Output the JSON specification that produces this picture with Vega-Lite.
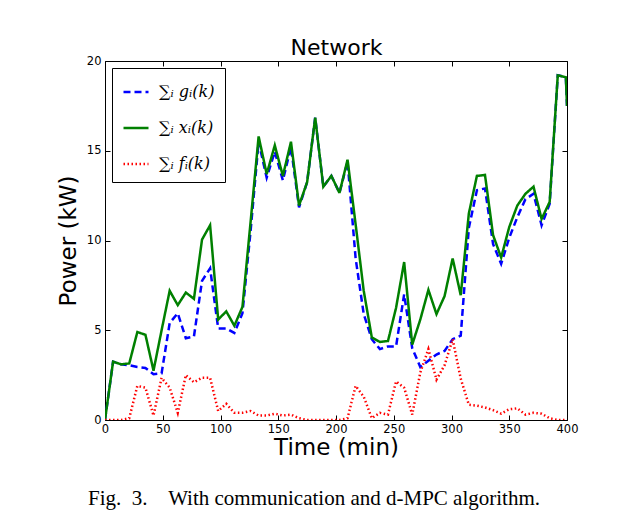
{
  "$schema": "https://vega.github.io/schema/vega-lite/v6.json",
  "width": 462,
  "height": 359,
  "autosize": {"type": "none"},
  "padding": {"left": 105, "top": 61, "right": 51, "bottom": 101},
  "background": "white",
  "title": {
    "text": "Fig.\u00a0\u00a03.\u00a0\u00a0\u00a0 With communication and d-MPC algorithm.",
    "orient": "bottom",
    "anchor": "middle",
    "font": "Liberation Serif",
    "fontSize": 21,
    "fontWeight": "normal",
    "color": "black",
    "offset": 28,
    "dx": -22
  },
  "data": {
    "values": [
      {"t": 0, "g": 0, "x": 0, "f": 0},
      {"t": 7, "g": 3.25, "x": 3.25, "f": 0},
      {"t": 14, "g": 3.1, "x": 3.1, "f": 0},
      {"t": 21, "g": 3.05, "x": 3.15, "f": 0.1},
      {"t": 28, "g": 2.95, "x": 4.9, "f": 1.9},
      {"t": 35, "g": 2.9, "x": 4.75, "f": 1.8},
      {"t": 42, "g": 2.55, "x": 2.75, "f": 0.25},
      {"t": 49, "g": 2.6, "x": 5.0, "f": 2.35},
      {"t": 56, "g": 5.4, "x": 7.2, "f": 1.8},
      {"t": 63, "g": 5.95, "x": 6.4, "f": 0.4},
      {"t": 70, "g": 4.55, "x": 7.1, "f": 2.5},
      {"t": 77, "g": 4.65, "x": 6.75, "f": 2.1},
      {"t": 84, "g": 7.75, "x": 10.05, "f": 2.35},
      {"t": 91, "g": 8.45, "x": 10.85, "f": 2.35},
      {"t": 98, "g": 5.1, "x": 5.6, "f": 0.5},
      {"t": 105, "g": 5.1, "x": 6.05, "f": 0.9},
      {"t": 112, "g": 4.85, "x": 5.25, "f": 0.4},
      {"t": 119, "g": 5.95, "x": 6.3, "f": 0.4},
      {"t": 126, "g": 10.5, "x": 11.0, "f": 0.5},
      {"t": 133, "g": 15.5, "x": 15.8, "f": 0.25},
      {"t": 140, "g": 13.5, "x": 13.7, "f": 0.25},
      {"t": 147, "g": 14.95, "x": 15.3, "f": 0.35},
      {"t": 154, "g": 13.35, "x": 13.6, "f": 0.25},
      {"t": 161, "g": 15.2, "x": 15.5, "f": 0.3},
      {"t": 168, "g": 11.85, "x": 11.95, "f": 0.1},
      {"t": 175, "g": 13.25, "x": 13.25, "f": 0},
      {"t": 182, "g": 16.85, "x": 16.85, "f": 0},
      {"t": 189, "g": 13.0, "x": 13.0, "f": 0},
      {"t": 196, "g": 13.6, "x": 13.6, "f": 0},
      {"t": 203, "g": 12.65, "x": 12.65, "f": 0},
      {"t": 210, "g": 14.4, "x": 14.5, "f": 0.1},
      {"t": 217, "g": 9.0, "x": 10.9, "f": 1.9},
      {"t": 224, "g": 5.9, "x": 7.2, "f": 1.3},
      {"t": 231, "g": 4.5, "x": 4.6, "f": 0.1},
      {"t": 238, "g": 3.95, "x": 4.35, "f": 0.4},
      {"t": 245, "g": 4.1, "x": 4.4, "f": 0.3},
      {"t": 252, "g": 4.1, "x": 6.25, "f": 2.15},
      {"t": 259, "g": 7.0, "x": 8.8, "f": 1.8},
      {"t": 266, "g": 4.0, "x": 4.2, "f": 0.3},
      {"t": 273, "g": 2.95, "x": 5.6, "f": 2.65},
      {"t": 280, "g": 3.3, "x": 7.25, "f": 3.95},
      {"t": 287, "g": 3.65, "x": 5.9, "f": 2.25},
      {"t": 294, "g": 3.85, "x": 6.9, "f": 3.05},
      {"t": 301, "g": 4.5, "x": 9.0, "f": 4.5},
      {"t": 308, "g": 4.7, "x": 6.95, "f": 2.3},
      {"t": 315, "g": 10.7, "x": 11.5, "f": 0.85},
      {"t": 322, "g": 12.8, "x": 13.6, "f": 0.8},
      {"t": 329, "g": 12.9, "x": 13.65, "f": 0.7},
      {"t": 336, "g": 9.8, "x": 10.3, "f": 0.55},
      {"t": 343, "g": 8.7, "x": 9.05, "f": 0.35},
      {"t": 350, "g": 10.15, "x": 10.75, "f": 0.6},
      {"t": 357, "g": 11.3, "x": 11.95, "f": 0.65},
      {"t": 364, "g": 12.3, "x": 12.6, "f": 0.3},
      {"t": 371, "g": 12.6, "x": 13.0, "f": 0.4},
      {"t": 378, "g": 10.85, "x": 11.2, "f": 0.35},
      {"t": 385, "g": 12.05, "x": 12.15, "f": 0.1},
      {"t": 392, "g": 19.2, "x": 19.2, "f": 0},
      {"t": 399, "g": 19.1, "x": 19.1, "f": 0},
      {"t": 400, "g": 17.5, "x": 17.5, "f": 0}
    ]
  },
  "transform": [{"fold": ["g", "x", "f"], "as": ["series", "v"]}],
  "layer": [
    {
      "mark": {"type": "line", "clip": true},
      "encoding": {
        "x": {
          "field": "t", "type": "quantitative",
          "scale": {"domain": [0, 400], "nice": false},
          "axis": {
            "orient": "bottom", "values": [0, 50, 100, 150, 200, 250, 300, 350, 400],
            "format": "d", "grid": false, "tickSize": -5, "tickColor": "black",
            "domainColor": "black", "labelPadding": 8, "labelFont": "DejaVu Sans",
            "labelFontSize": 11.5, "labelColor": "black", "labelFlush": false,
            "title": "Time (min)", "titleFont": "DejaVu Sans", "titleFontSize": 23,
            "titleFontWeight": "normal", "titleColor": "black", "titlePadding": 2
          }
        },
        "y": {
          "field": "v", "type": "quantitative",
          "scale": {"domain": [0, 20], "nice": false},
          "axis": {
            "orient": "left", "values": [0, 5, 10, 15, 20], "format": "d",
            "grid": false, "tickSize": -5, "tickColor": "black", "domainColor": "black",
            "labelPadding": 9, "labelFont": "DejaVu Sans", "labelFontSize": 11.5,
            "labelColor": "black", "labelFlush": false,
            "title": "Power (kW)", "titleFont": "DejaVu Sans", "titleFontSize": 23,
            "titleFontWeight": "normal", "titleColor": "black", "titlePadding": 6
          }
        },
        "color": {
          "field": "series", "type": "nominal",
          "scale": {"domain": ["g", "x", "f"], "range": ["#0000ff", "#008000", "#ff0000"]},
          "legend": {
            "title": null, "orient": "top-left", "offset": 7,
            "strokeColor": "black", "fillColor": "white", "padding": 10,
            "symbolType": "stroke", "symbolSize": 625, "symbolStrokeWidth": 2.5,
            "labelFont": "DejaVu Serif", "labelFontSize": 16, "labelFontStyle": "italic",
            "labelColor": "black", "labelOffset": 9, "rowPadding": 14,
            "labelExpr": "datum.value == 'g' ? '\u2211\u1d62 g\u1d62(k)' : datum.value == 'x' ? '\u2211\u1d62 x\u1d62(k)' : '\u2211\u1d62 f\u1d62(k)'"
          }
        },
        "strokeDash": {
          "field": "series", "type": "nominal",
          "scale": {"domain": ["g", "x", "f"], "range": [[7, 4], [1, 0], [1.5, 2.5]]}
        },
        "strokeWidth": {
          "field": "series", "type": "ordinal",
          "scale": {"domain": ["g", "x", "f"], "range": [2.5, 2.5, 1.5]},
          "legend": null
        }
      }
    },
    {
      "mark": {"type": "line", "opacity": 0},
      "encoding": {
        "x": {
          "field": "t", "type": "quantitative",
          "axis": {
            "orient": "top", "values": [0, 50, 100, 150, 200, 250, 300, 350, 400],
            "labels": false, "grid": false, "tickSize": -5, "tickColor": "black",
            "domainColor": "black", "title": "Network", "titleFont": "DejaVu Sans",
            "titleFontSize": 22, "titleFontWeight": "normal", "titleColor": "black",
            "titlePadding": 1
          }
        },
        "y": {
          "field": "v", "type": "quantitative",
          "axis": {
            "orient": "right", "values": [0, 5, 10, 15, 20], "labels": false,
            "grid": false, "tickSize": -5, "tickColor": "black", "domainColor": "black",
            "title": null
          }
        }
      }
    }
  ],
  "resolve": {"axis": {"x": "independent", "y": "independent"}},
  "config": {"view": {"stroke": null}}
}
